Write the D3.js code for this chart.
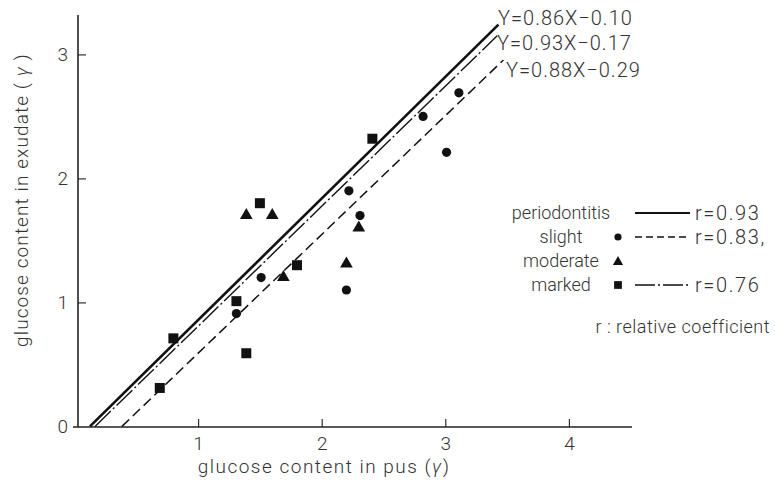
<!DOCTYPE html>
<html>
<head>
<meta charset="utf-8">
<script src="https://cdn.jsdelivr.net/npm/d3@7"></script>
<style>
  body { margin: 0; background: #fff; }
  text { font-family: Roboto, "DejaVu Sans", sans-serif; font-weight: 300; fill: #333; }
</style>
</head>
<body>
<div id="chart"></div>
<script>
// data (glucose in pus vs exudate)
var slight   = [[1.31, 0.91], [1.51, 1.20], [2.22, 1.90], [2.31, 1.70], [2.20, 1.10], [2.82, 2.50], [3.01, 2.21], [3.11, 2.69]];
var moderate = [[1.39, 1.71], [1.60, 1.71], [1.69, 1.21], [2.30, 1.61], [2.20, 1.32]];
var marked   = [[1.50, 1.80], [1.31, 1.01], [1.80, 1.30], [2.41, 2.32], [1.39, 0.59], [0.69, 0.31], [0.80, 0.71]];

// regression lines as drawn (end points in data units)
var lineAll    = [[0.125, 0], [3.43, 3.24]];
var lineMarked = [[0.166, 0], [3.42, 3.15]];
var lineSlight = [[0.384, 0], [3.47, 2.955]];
var equations  = ["Y=0.86X\u22120.10", "Y=0.93X\u22120.17", "Y=0.88X\u22120.29"];

var xTicks = [1, 2, 3, 4];
var yTicks = [0, 1, 2, 3];

var legendLabels = ["periodontitis", "slight", "moderate", "marked"];
var legendR      = ["r=0.93", "r=0.83,", "", "r=0.76"];

var width = 775, height = 482;
var svg = d3.select("#chart").append("svg")
  .attr("width", width).attr("height", height);

var x = d3.scaleLinear().domain([0, 4]).range([74.5, 74.5 + 4 * 123.6]);
var y = d3.scaleLinear().domain([0, 3]).range([426.4, 426.4 - 3 * 124]);

// axes
var xAxis = svg.append("g").attr("transform", "translate(0,427)")
  .call(d3.axisBottom(x).tickValues(xTicks).tickSize(-8).tickPadding(10).tickFormat(d3.format("d")));
var yAxis = svg.append("g").attr("transform", "translate(78,0)")
  .call(d3.axisLeft(y).tickValues(yTicks).tickSize(-8).tickPadding(10).tickFormat(d3.format("d")));
[xAxis, yAxis].forEach(function(a){
  a.select(".domain").remove();
  a.selectAll(".tick line").attr("stroke", "#333").attr("stroke-width", 1.2);
  a.selectAll(".tick text").style("font-size", "19px").attr("fill", "#444");
});
yAxis.select(".tick line").remove();  // no tick at 0
svg.append("line").attr("x1", 73).attr("x2", 632).attr("y1", 427).attr("y2", 427)
  .attr("stroke", "#222").attr("stroke-width", 1.6);
svg.append("line").attr("x1", 78).attr("x2", 78).attr("y1", 15).attr("y2", 427)
  .attr("stroke", "#222").attr("stroke-width", 1.6);

// axis titles
var xt = svg.append("text").attr("x", 324).attr("y", 473).attr("text-anchor", "middle")
  .style("font-size", "19px").style("letter-spacing", "1.5px");
xt.append("tspan").text("glucose content in pus (");
xt.append("tspan").style("font-style", "italic").text("\u03b3");
xt.append("tspan").text(")");

var yt = svg.append("text").attr("transform", "translate(28,200) rotate(-90)").attr("text-anchor", "middle")
  .style("font-size", "19px").style("letter-spacing", "1.1px");
yt.append("tspan").text("glucose content in exudate ( ");
yt.append("tspan").style("font-style", "italic").text("\u03b3");
yt.append("tspan").text(" )");

// regression lines
var line = d3.line().x(function(d){ return x(d[0]); }).y(function(d){ return y(d[1]); });
svg.append("path").datum(lineAll).attr("d", line)
  .attr("fill", "none").attr("stroke", "#111").attr("stroke-width", 2.6);
svg.append("path").datum(lineMarked).attr("d", line)
  .attr("fill", "none").attr("stroke", "#111").attr("stroke-width", 1.4)
  .attr("stroke-dasharray", "22,3,2,3");
svg.append("path").datum(lineSlight).attr("d", line)
  .attr("fill", "none").attr("stroke", "#111").attr("stroke-width", 1.5)
  .attr("stroke-dasharray", "10,5");

// equations
var eqPos = [[498, 25], [497, 50], [506, 77]];
svg.selectAll("text.eq").data(equations).enter().append("text")
  .attr("class", "eq")
  .attr("x", function(d, i){ return eqPos[i][0]; })
  .attr("y", function(d, i){ return eqPos[i][1]; })
  .style("font-size", "20px").style("letter-spacing", "1px")
  .text(function(d){ return d; });

// points
var sq = d3.symbol().type(d3.symbolSquare).size(100);
var tri = d3.symbol().type(d3.symbolTriangle).size(70);
svg.selectAll("circle.slight").data(slight).enter().append("circle")
  .attr("cx", function(d){ return x(d[0]); })
  .attr("cy", function(d){ return y(d[1]); })
  .attr("r", 4.6).attr("fill", "#111");
svg.selectAll("path.moderate").data(moderate).enter().append("path")
  .attr("d", tri)
  .attr("transform", function(d){ return "translate(" + x(d[0]) + "," + (y(d[1]) + 1) + ")"; })
  .attr("fill", "#111");
svg.selectAll("path.marked").data(marked).enter().append("path")
  .attr("d", sq)
  .attr("transform", function(d){ return "translate(" + x(d[0]) + "," + y(d[1]) + ")"; })
  .attr("fill", "#111");

// legend
var rowY = [213, 237, 261, 285];
var leg = svg.append("g");
leg.selectAll("text.lab").data(legendLabels).enter().append("text")
  .attr("x", 561).attr("y", function(d, i){ return rowY[i] + 6; })
  .attr("text-anchor", "middle").style("font-size", "18px")
  .text(function(d){ return d; });
leg.append("circle").attr("cx", 618).attr("cy", rowY[1]).attr("r", 3.6).attr("fill", "#111");
leg.append("path").attr("d", d3.symbol().type(d3.symbolTriangle).size(45))
  .attr("transform", "translate(618," + (rowY[2] + 1) + ")").attr("fill", "#111");
leg.append("path").attr("d", d3.symbol().type(d3.symbolSquare).size(60))
  .attr("transform", "translate(618," + rowY[3] + ")").attr("fill", "#111");
var legDash = [null, "7,4", null, "20,3,2,3"];
var legW = [2.2, 1.4, 0, 1.4];
[0, 1, 3].forEach(function(i){
  leg.append("line").attr("x1", 635).attr("x2", 690).attr("y1", rowY[i]).attr("y2", rowY[i])
    .attr("stroke", "#111").attr("stroke-width", legW[i])
    .attr("stroke-dasharray", legDash[i]);
});
leg.selectAll("text.r").data(legendR).enter().append("text")
  .attr("x", 695).attr("y", function(d, i){ return rowY[i] + 7; })
  .style("font-size", "20px").style("letter-spacing", "1.6px")
  .text(function(d){ return d; });
svg.append("text").attr("x", 770).attr("y", 333).attr("text-anchor", "end")
  .style("font-size", "18px").style("letter-spacing", "0.5px")
  .text("r : relative coefficient");
</script>
</body>
</html>
